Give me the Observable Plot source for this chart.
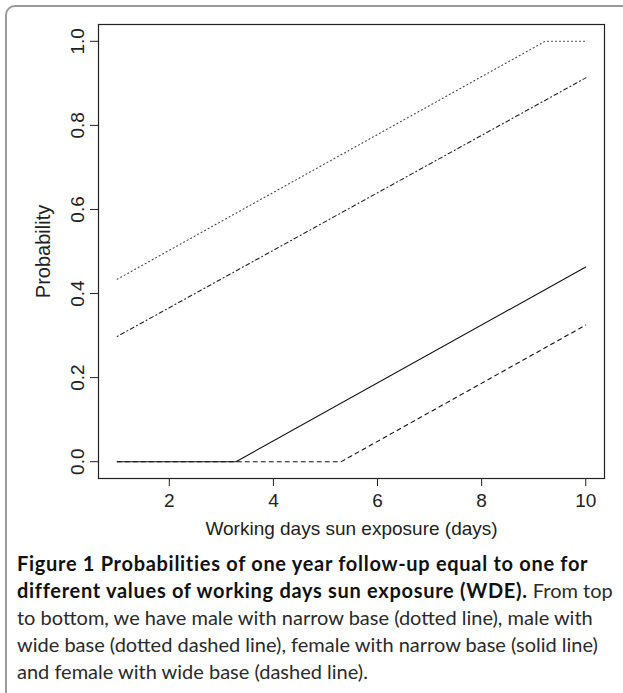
<!DOCTYPE html>
<html>
<head>
<meta charset="utf-8">
<script src="https://cdn.jsdelivr.net/npm/d3@7"></script>
<script src="https://cdn.jsdelivr.net/npm/@observablehq/plot@0.6"></script>
<style>
  html, body { margin: 0; padding: 0; background: #fff; }
  body { width: 623px; height: 693px; position: relative; overflow: hidden; }
  #border { position: absolute; left: 5px; top: 5px; width: 700px; height: 760px;
    border: 2px solid #9a9a9a; border-radius: 10px 0 0 0; box-sizing: border-box; }
  #chart { position: absolute; left: 0; top: 0; }
  #caption { position: absolute; left: 17px; top: 550px; font-family: Lato, "Open Sans", sans-serif;
    font-size: 20px; line-height: 27px; color: #2a2a2a; white-space: nowrap; }
  #caption b { font-weight: 700; color: #111; letter-spacing: 0.7px; }
</style>
</head>
<body>
<div id="border"></div>
<div id="chart"></div>
<div id="caption">
  <div><b>Figure 1 Probabilities of one year follow-up equal to one for</b></div>
  <div><b>different values of working days sun exposure (WDE).</b> From top</div>
  <div>to bottom, we have male with narrow base (dotted line), male with</div>
  <div>wide base (dotted dashed line), female with narrow base (solid line)</div>
  <div>and female with wide base (dashed line).</div>
</div>
<script>
// Data
const maleNarrowX = [1, 9.22, 10];
const maleNarrowY = [0.434, 1.0, 1.0];
const maleWideX = [1, 10];
const maleWideY = [0.298, 0.913];
const femaleNarrowX = [1, 3.28, 10];
const femaleNarrowY = [0, 0, 0.463];
const femaleWideX = [1, 5.30, 10];
const femaleWideY = [0, 0, 0.325];

const xTicks = [2, 4, 6, 8, 10];
const yTicks = [0, 0.2, 0.4, 0.6, 0.8, 1.0];
const yTickLabels = ["0.0", "0.2", "0.4", "0.6", "0.8", "1.0"];
const xLabel = "Working days sun exposure (days)";
const yLabel = "Probability";

const toPts = (xs, ys) => xs.map((x, i) => ({x, y: ys[i]}));
const series = [
  {pts: toPts(maleNarrowX, maleNarrowY), dash: "1,3", stroke: "#444"},
  {pts: toPts(maleWideX, maleWideY), dash: "1,3,4,3", stroke: "#222"},
  {pts: toPts(femaleNarrowX, femaleNarrowY), dash: null, stroke: "#111"},
  {pts: toPts(femaleWideX, femaleWideY), dash: "4,4", stroke: "#111"}
];

const font = "'Liberation Sans', Arial, Helvetica, sans-serif";
const fs = 19;

const plot = Plot.plot({
  width: 623,
  height: 545,
  marginLeft: 98,
  marginRight: 19,
  marginTop: 24,
  marginBottom: 67,
  style: {fontFamily: font, fontSize: fs + "px", color: "#222", background: "transparent", overflow: "visible"},
  x: {domain: [0.64, 10.36], label: null},
  y: {domain: [-0.04, 1.04], label: null},
  marks: [
    Plot.frame({stroke: "#222", strokeWidth: 1.2}),
    ...series.map(s => Plot.line(s.pts, {x: "x", y: "y", stroke: s.stroke, strokeWidth: 1.1,
      strokeDasharray: s.dash ?? undefined})),
    Plot.axisX({ticks: xTicks, tickSize: 8, tickFormat: () => "", label: null, stroke: "#222"}),
    Plot.axisY({ticks: yTicks, tickSize: 8, tickFormat: () => "", label: null, stroke: "#222"}),
    Plot.text(xTicks, {x: d => d, frameAnchor: "bottom", dy: 22, lineAnchor: "middle",
      text: d => String(d), fontSize: fs, fill: "#222"}),
    Plot.text(yTicks, {y: d => d, frameAnchor: "left", dx: -21, rotate: -90, textAnchor: "middle",
      lineAnchor: "middle", text: (d, i) => yTickLabels[i], fontSize: fs, fill: "#222"}),
    Plot.text([xLabel], {frameAnchor: "bottom", dy: 50, lineAnchor: "middle", text: d => d,
      fontSize: fs, fill: "#222"}),
    Plot.text([yLabel], {frameAnchor: "left", dx: -55, rotate: -90, textAnchor: "middle",
      lineAnchor: "middle", text: d => d, fontSize: 20, fill: "#222"})
  ]
});
document.getElementById("chart").appendChild(plot);
</script>
</body>
</html>
